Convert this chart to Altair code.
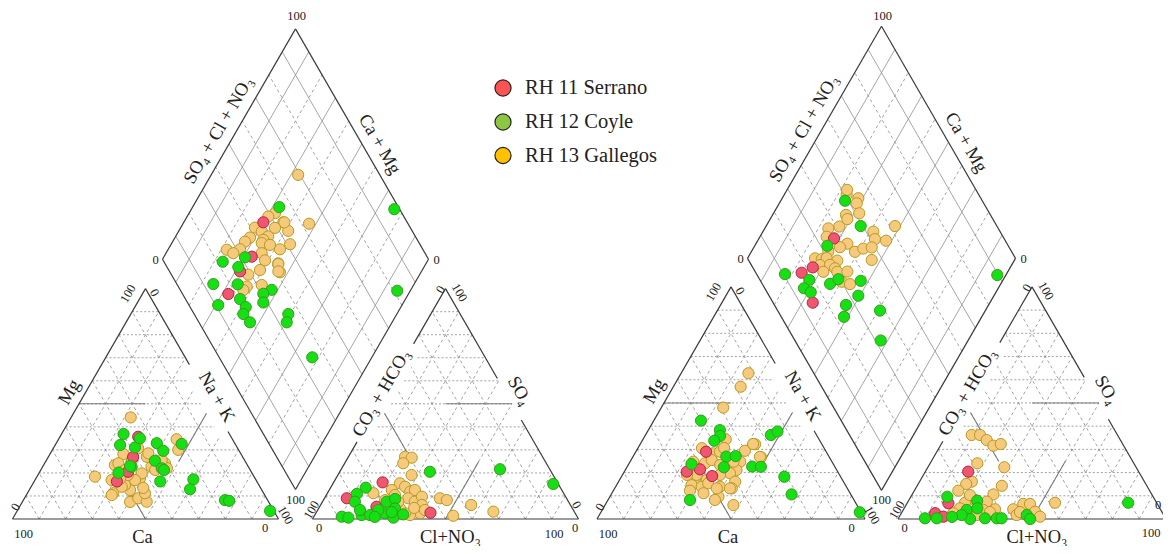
import math
import altair as alt
import pandas as pd

# ---------------------------------------------------------------- data
GROUPS = ["RH 11 Serrano", "RH 12 Coyle", "RH 13 Gallegos"]
LEGEND_FILL = ["#FF5252", "#8DC641", "#FFC000"]
POINT_FILL = ["#F0566F", "#14E014", "#F7C97D"]
POINT_STROKE = ["#B3213F", "#3A9B1C", "#B59C20"]
DRAW_ORDER = ["RH 13 Gallegos", "RH 11 Serrano", "RH 12 Coyle"]

# cation triangle values: (Na+K %, Mg %)
L_CAT_SERRANO = [(29.4, 35.7), (31.9, 26.9), (33.2, 20.5), (31.1, 16.3)]
L_CAT_COYLE = [(23.3, 36.9), (24.4, 32.1), (30.5, 31.1), (30.4, 35.0), (37.8, 32.9), (41.9, 29.6),
               (47.3, 32.6), (40.9, 25.3), (45.1, 22.0), (33.5, 22.6), (29.8, 20.1), (32.7, 23.0),
               (47.4, 16.3), (59.4, 17.2), (60.3, 12.9), (75.8, 8.2), (77.5, 7.9), (95.1, 3.5), (46.3, 21.3)]
L_CAT_GALLEGOS = [(22.4, 44.1), (44.4, 34.6), (47.3, 30.0), (21.8, 18.4), (27.6, 28.2), (26.8, 23.4),
                  (28.8, 16.9), (32.3, 11.2), (37.9, 12.6), (40.5, 7.4), (42.8, 9.0), (46.7, 7.5),
                  (44.2, 11.2), (39.1, 17.7), (38.7, 19.8), (40.9, 22.7), (37.0, 27.0), (36.8, 28.5),
                  (31.9, 30.7), (45.2, 24.2), (47.0, 22.1), (27.7, 24.2), (30.8, 20.5), (34.9, 14.8),
                  (34.1, 14.0), (37.6, 16.9), (43.3, 25.6), (32.1, 10.4), (31.7, 21.3), (33.8, 19.1),
                  (43.0, 21.3), (32.1, 25.6), (42.4, 13.5), (31.7, 17.4)]
R_CAT_SERRANO = [(26.2, 29.0), (23.3, 20.4), (27.7, 21.4), (33.7, 18.5)]
R_CAT_COYLE = [(17.6, 42.4), (26.7, 38.3), (28.0, 35.8), (26.9, 33.7), (46.8, 36.2), (48.5, 37.7),
               (34.8, 26.9), (38.2, 27.1), (36.2, 22.3), (46.6, 22.6), (49.9, 22.5), (23.4, 23.7),
               (60.8, 18.2), (67.3, 10.6), (30.6, 8.2), (96.6, 2.9)]
R_CAT_GALLEGOS = [(25.1, 62.8), (25.1, 57.0), (23.1, 48.0), (30.9, 34.3), (42.9, 32.2), (40.5, 29.4),
                  (47.9, 26.6), (23.9, 30.5), (29.2, 28.3), (31.4, 29.0), (23.6, 24.7), (28.3, 24.0),
                  (30.1, 25.4), (34.3, 23.3), (38.3, 24.0), (41.1, 24.7), (41.5, 21.1), (39.8, 19.7),
                  (43.5, 16.1), (36.4, 19.0), (38.9, 13.9), (43.7, 13.2), (32.5, 16.8), (27.8, 17.5),
                  (28.0, 14.6), (32.1, 13.9), (33.8, 15.4), (34.2, 11.1), (40.5, 9.6), (39.9, 8.2),
                  (47.9, 6.0), (28.6, 12.2), (27.7, 19.0), (47.4, 26.8), (42.1, 32.3), (38.6, 24.7),
                  (38.1, 13.2), (43.0, 13.2), (24.1, 19.0), (32.1, 30.6)]

# anion triangle values: (Cl+NO3 %, SO4 %)
L_AN_SERRANO = [(18.4, 15.9), (8.4, 9.0), (21.4, 5.3), (43.0, 2.7)]
L_AN_COYLE = [(33.9, 20.5), (59.7, 21.6), (82.9, 15.2), (13.2, 13.6), (11.2, 10.9), (12.2, 7.5),
              (10.5, 1.0), (13.2, 0.6), (17.6, 1.7), (20.8, 1.7), (15.9, 3.9), (24.1, 7.5),
              (26.7, 8.7), (28.7, 4.6), (26.0, 2.5), (30.1, 0.6), (33.1, 2.0), (22.8, 3.9),
              (28.3, 3.0), (23.0, 0.9)]
L_AN_GALLEGOS = [(21.3, 27.0), (24.0, 26.6), (22.0, 24.2), (27.7, 19.1), (25.1, 15.5), (23.5, 12.6),
                 (27.8, 14.0), (30.8, 11.9), (32.2, 12.6), (31.5, 9.0), (34.7, 7.5), (36.3, 9.7),
                 (38.1, 6.1), (39.2, 2.5), (35.8, 1.7), (33.6, 2.5), (30.6, 4.6), (43.4, 9.0),
                 (46.4, 8.2), (17.3, 11.2), (56.6, 6.1), (52.2, 1.4), (66.4, 3.2), (28.5, 7.5),
                 (25.8, 10.4), (35.8, 4.8), (40.3, 3.9), (23.2, 8.2)]
R_AN_SERRANO = [(16.0, 20.4), (15.4, 6.8), (12.6, 2.5), (16.4, 1.0)]
R_AN_COYLE = [(13.6, 9.6), (9.9, 0.3), (14.3, 0.3), (23.7, 3.9), (25.6, 7.9), (27.3, 4.6), (26.9, 0.0),
              (32.3, 0.3), (36.7, 0.3), (38.5, 0.3), (47.2, 1.7), (49.3, 0.0), (82.4, 7.0),
              (22.9, 1.7), (19.7, 0.9)]
R_AN_GALLEGOS = [(9.4, 36.2), (12.5, 36.2), (16.1, 34.0), (19.8, 31.6), (22.2, 32.3), (17.6, 24.0),
                 (28.5, 22.3), (19.5, 16.1), (17.9, 15.1), (16.4, 12.2), (31.6, 14.3), (30.3, 10.6),
                 (24.6, 8.2), (21.5, 7.0), (29.4, 7.5), (34.1, 4.2), (29.9, 3.9), (20.8, 4.6),
                 (19.4, 2.5), (40.9, 4.2), (43.5, 6.5), (46.0, 6.5), (49.6, 3.1), (52.5, 1.0),
                 (55.1, 7.0), (43.4, 1.7), (28.5, 1.7), (24.4, 2.5), (44.0, 3.0), (32.8, 3.0), (21.7, 10.3)]

# diamond values: (SO4+Cl+NO3 %, Ca+Mg %)
L_DIA_SERRANO = [(45.9, 70.1), (34.1, 67.0), (26.5, 68.2), (17.2, 67.7)]
L_DIA_COYLE = [(55.2, 67.4), (98.0, 23.7), (22.1, 76.8), (31.4, 69.4), (26.8, 69.8), (13.7, 75.5),
               (22.8, 66.3), (34.4, 52.3), (30.4, 54.6), (28.5, 52.7), (20.5, 62.2), (20.9, 58.3),
               (18.5, 57.7), (19.2, 53.4), (11.0, 69.1), (35.4, 40.8), (33.0, 39.6), (81.4, 4.9),
               (35.0, 22.4)]
L_DIA_GALLEGOS = [(69.3, 67.3), (52.3, 67.7), (49.0, 69.5), (53.4, 62.6), (53.4, 58.9), (62.8, 52.6),
                  (51.2, 55.3), (46.3, 58.0), (42.6, 55.6), (41.3, 53.0), (41.6, 72.1), (37.6, 71.8),
                  (34.8, 72.8), (31.3, 73.0), (26.2, 77.9), (27.9, 74.7), (43.3, 68.7), (44.7, 65.2),
                  (42.1, 66.3), (40.8, 66.2), (38.6, 64.0), (38.3, 61.2), (34.3, 61.0), (42.5, 55.4),
                  (40.9, 53.8), (28.9, 64.4), (31.7, 57.1), (25.7, 62.4), (23.7, 62.9), (53.8, 62.2),
                  (49.1, 64.5), (43.5, 62.7)]
R_DIA_SERRANO = [(36.6, 72.0), (22.4, 73.7), (17.1, 76.7), (14.8, 66.1)]
R_DIA_COYLE = [(48.8, 76.0), (49.2, 64.7), (32.5, 72.9), (10.6, 82.6), (18.4, 72.3), (14.6, 72.5),
               (16.3, 69.1), (25.3, 63.7), (29.4, 61.6), (37.4, 52.9), (33.3, 50.6), (26.7, 53.2),
               (23.4, 51.4), (38.2, 39.3), (32.0, 32.6), (89.6, 3.2)]
R_DIA_GALLEGOS = [(50.7, 76.7), (54.3, 71.6), (52.6, 71.1), (51.4, 68.0), (46.1, 72.6), (45.7, 71.2),
                  (41.1, 72.6), (36.6, 76.3), (52.7, 58.8), (51.7, 56.6), (55.5, 52.1), (62.0, 51.9),
                  (34.2, 75.1), (40.4, 65.9), (36.9, 67.9), (41.5, 61.3), (45.3, 58.9), (48.7, 56.0),
                  (46.0, 53.3), (31.6, 71.3), (25.2, 74.8), (27.5, 72.1), (29.6, 70.5), (33.0, 66.0),
                  (25.6, 71.5), (29.4, 67.8), (30.5, 65.2), (25.4, 68.8), (30.6, 63.6), (34.4, 59.9),
                  (30.1, 59.8), (32.7, 56.2), (51.9, 77.6)]

GRID_STEPS = [10, 20, 30, 40, 50, 60, 70, 80, 90]
DIAMOND_SOLID = [10, 30, 50, 70, 90]

# ---------------------------------------------------------------- geometry
R3 = math.sqrt(3) / 2
LAYOUT = {"left": (12.5, 519.0, 266.0, 34.0), "right": (597.0, 519.0, 268.0, 33.0)}


def geom(name):
    ox, oy, S, g = LAYOUT[name]
    return dict(ox=ox, oy=oy, S=S, H=S * R3, ax=ox + S + g, bx=ox + S + g / 2, by=oy - g * R3)


def tri(G, x0, a, b):
    return (x0 + G["S"] * (a + b / 2) / 100, G["oy"] - G["H"] * b / 100)


def dia(G, sc, cm):
    return (G["bx"] + G["S"] / 2 * (sc - cm) / 100, G["by"] - G["H"] * (sc + cm) / 100)


def lerp(p, q, t):
    return (p[0] + (q[0] - p[0]) * t, p[1] + (q[1] - p[1]) * t)


def seg(rows, p, q, kind):
    rows.append(dict(x=p[0], y=p[1], x2=q[0], y2=q[1], kind=kind))


rows = []
pts = []
texts = []

DATASETS = {
    "left": {"cat": [L_CAT_SERRANO, L_CAT_COYLE, L_CAT_GALLEGOS],
             "an": [L_AN_SERRANO, L_AN_COYLE, L_AN_GALLEGOS],
             "dia": [L_DIA_SERRANO, L_DIA_COYLE, L_DIA_GALLEGOS]},
    "right": {"cat": [R_CAT_SERRANO, R_CAT_COYLE, R_CAT_GALLEGOS],
              "an": [R_AN_SERRANO, R_AN_COYLE, R_AN_GALLEGOS],
              "dia": [R_DIA_SERRANO, R_DIA_COYLE, R_DIA_GALLEGOS]},
}

for name in ["left", "right"]:
    G = geom(name)
    for x0 in (G["ox"], G["ax"]):
        for t in GRID_STEPS:
            seg(rows, tri(G, x0, 0, t), tri(G, x0, 100 - t, t), "dot")
            seg(rows, tri(G, x0, t, 0), tri(G, x0, t, 100 - t), "dash")
            seg(rows, tri(G, x0, 100 - t, 0), tri(G, x0, 0, 100 - t), "dash")
    for t in GRID_STEPS:
        k = "dsolid" if t in DIAMOND_SOLID else "dash"
        seg(rows, dia(G, t, 0), dia(G, t, 100), k)
        seg(rows, dia(G, 0, t), dia(G, 100, t), k)
    # facies lines
    ox, ax = G["ox"], G["ax"]
    seg(rows, tri(G, ox, 0, 50), tri(G, ox, 25, 50), "cls")
    seg(rows, tri(G, ox, 50, 50), tri(G, ox, 50, 25), "cls")
    seg(rows, tri(G, ox, 50, 0), tri(G, ox, 25, 25), "cls")
    seg(rows, tri(G, ax, 50, 50), tri(G, ax, 25, 50), "cls")
    seg(rows, tri(G, ax, 0, 50), tri(G, ax, 25, 25), "cls")
    seg(rows, tri(G, ax, 50, 0), tri(G, ax, 50, 25), "cls")
    # edges (with gaps where the titles sit)
    c_apex, c_O, c_R = tri(G, ox, 0, 100), tri(G, ox, 0, 0), tri(G, ox, 100, 0)
    a_apex, a_L, a_R = tri(G, ax, 0, 100), tri(G, ax, 0, 0), tri(G, ax, 100, 0)
    seg(rows, c_O, c_R, "edge")
    seg(rows, c_O, c_apex, "edge")
    seg(rows, c_apex, lerp(c_apex, c_R, 0.33), "edge")
    seg(rows, lerp(c_apex, c_R, 0.62), c_R, "edge")
    seg(rows, lerp(c_apex, c_R, 0.33), lerp(c_apex, c_R, 0.62), "mask")
    seg(rows, a_L, a_R, "edge")
    seg(rows, a_apex, lerp(a_apex, a_L, 0.24), "edge")
    seg(rows, lerp(a_apex, a_L, 0.665), a_L, "edge")
    seg(rows, lerp(a_apex, a_L, 0.24), lerp(a_apex, a_L, 0.665), "mask")
    seg(rows, a_apex, lerp(a_apex, a_R, 0.39), "edge")
    seg(rows, lerp(a_apex, a_R, 0.57), a_R, "edge")
    d_b, d_l, d_t, d_r = dia(G, 0, 0), dia(G, 0, 100), dia(G, 100, 100), dia(G, 100, 0)
    for p, q in [(d_b, d_l), (d_l, d_t), (d_t, d_r), (d_r, d_b)]:
        seg(rows, p, q, "edge")

    # points
    ds = DATASETS[name]
    for gi, grp in enumerate(GROUPS):
        for v in ds["cat"][gi]:
            x, y = tri(G, ox, v[0], v[1])
            pts.append(dict(x=x, y=y, group=grp, o=DRAW_ORDER.index(grp)))
        for v in ds["an"][gi]:
            x, y = tri(G, ax, v[0], v[1])
            pts.append(dict(x=x, y=y, group=grp, o=DRAW_ORDER.index(grp)))
        for v in ds["dia"][gi]:
            x, y = dia(G, v[0], v[1])
            pts.append(dict(x=x, y=y, group=grp, o=DRAW_ORDER.index(grp)))

    # titles
    def add(txt, p, dx, dy, ang, kind):
        texts.append(dict(x=p[0] + dx, y=p[1] + dy, text=txt, angle=ang, kind=kind))

    add("Mg", lerp(c_O, c_apex, 0.5), -10, -12, 300, "title")
    add("Na + K", lerp(c_R, c_apex, 0.5), 5, -7, 60, "title")
    add("Ca", lerp(c_O, c_R, 0.5), -3, 18, 0, "title")
    add("CO\u2083 + HCO\u2083", lerp(a_L, a_apex, 0.5), 2, -11, 300, "title")
    add("SO\u2084", lerp(a_R, a_apex, 0.5), 8, -13, 60, "title")
    add("Cl+NO\u2083", lerp(a_L, a_R, 0.5), 5, 18, 0, "title")
    add("SO\u2084 + Cl + NO\u2083", lerp(d_l, d_t, 0.5), -11, -14, 300, "title")
    add("Ca + Mg", lerp(d_r, d_t, 0.5), 18, 0, 60, "title")
    # tick labels
    add("100", c_apex, -17.5, 5, 300, "tick")
    add("0", c_apex, 9, 4, 60, "tick")
    add("0", c_O, 3, -12, 300, "tick")
    add("100", c_O, 11, 15, 0, "tick")
    add("0", c_R, -13.5, 9, 0, "tick")
    add("100", c_R, 7, -4, 60, "tick")
    add("0", a_apex, -5, 1, 300, "tick")
    add("100", a_apex, 14, 4, 60, "tick")
    add("0", a_L, 6.5, 9, 0, "tick")
    add("100", a_L, -1, -9, 300, "tick")
    if name == "left":
        add("0", a_R, -2, -14, 60, "tick")
        add("0", a_R, -3.5, 9, 0, "tick")
        add("100", a_R, -24.5, 15, 0, "tick")
        add("100", d_t, 1, -13, 0, "tick")
    else:
        add("0", a_R, -8, -14, 0, "tick")
        add("100", a_R, -15, 14, 0, "tick")
        add("100", d_t, 1, -10.5, 0, "tick")
    add("0", d_l, -7, 1, 0, "tick")
    add("0", d_r, 8, 1, 0, "tick")
    add("100", d_b, 0, 10, 0, "tick")

lines = pd.DataFrame(rows)
points = pd.DataFrame(pts).sort_values("o", kind="stable")
labels = pd.DataFrame(texts)
legend = pd.DataFrame(dict(group=GROUPS, fill=LEGEND_FILL,
                           x=[503.0] * 3, y=[88.0, 122.0, 155.5]))

X = alt.X("x:Q", scale=alt.Scale(domain=[8, 1163], nice=False, zero=False), axis=None)
Y = alt.Y("y:Q", scale=alt.Scale(domain=[8, 546], nice=False, zero=False, reverse=True), axis=None)


def rule_layer(kind, **mk):
    return (alt.Chart(lines).transform_filter(alt.datum.kind == kind)
            .mark_rule(**mk).encode(x=X, y=Y, x2="x2:Q", y2="y2:Q"))


grid_dot = rule_layer("dot", color="#8a8a8a", strokeWidth=0.8, strokeDash=[2, 2])
grid_dash = rule_layer("dash", color="#8a8a8a", strokeWidth=0.8, strokeDash=[3, 3])
grid_dsolid = rule_layer("dsolid", color="#8f8f8f", strokeWidth=0.8)
cls = rule_layer("cls", color="#7a7a7a", strokeWidth=1.1)
mask = rule_layer("mask", color="white", strokeWidth=19, strokeCap="butt")
edge = rule_layer("edge", color="#3a3a3a", strokeWidth=1.2)

dots = alt.Chart(points).mark_circle(size=125, opacity=1, strokeWidth=1).encode(
    x=X, y=Y,
    fill=alt.Fill("group:N", scale=alt.Scale(domain=GROUPS, range=POINT_FILL), legend=None),
    stroke=alt.Stroke("group:N", scale=alt.Scale(domain=GROUPS, range=POINT_STROKE), legend=None),
)

leg_sym = alt.Chart(legend).mark_circle(size=260, opacity=1, stroke="#222", strokeWidth=1.2).encode(
    x=X, y=Y, fill=alt.Fill("fill:N", scale=None))
leg_txt = alt.Chart(legend).mark_text(align="left", baseline="middle", dx=22, font="Liberation Serif",
                                      fontSize=20.5, color="#222").encode(x=X, y=Y, text="group:N")

titles = alt.Chart(labels).transform_filter(alt.datum.kind == "title").mark_text(
    align="center", baseline="middle", font="Liberation Serif", fontSize=18.5, color="#222").encode(
    x=X, y=Y, text="text:N", angle=alt.Angle("angle:Q", scale=None))
ticks = alt.Chart(labels).transform_filter(alt.datum.kind == "tick").mark_text(
    align="center", baseline="middle", font="Liberation Serif", fontSize=12.5, color="#222").encode(
    x=X, y=Y, text="text:N", angle=alt.Angle("angle:Q", scale=None))

chart = alt.layer(grid_dot, grid_dash, grid_dsolid, cls, mask, edge, dots, leg_sym, leg_txt, titles,
                  ticks).properties(
    width=1155, height=538, autosize=alt.AutoSizeParams(type="none"), padding=0,
    background="white").configure_view(stroke=None)

chart.save("out.html", embed_options={"renderer": "svg", "actions": False})
